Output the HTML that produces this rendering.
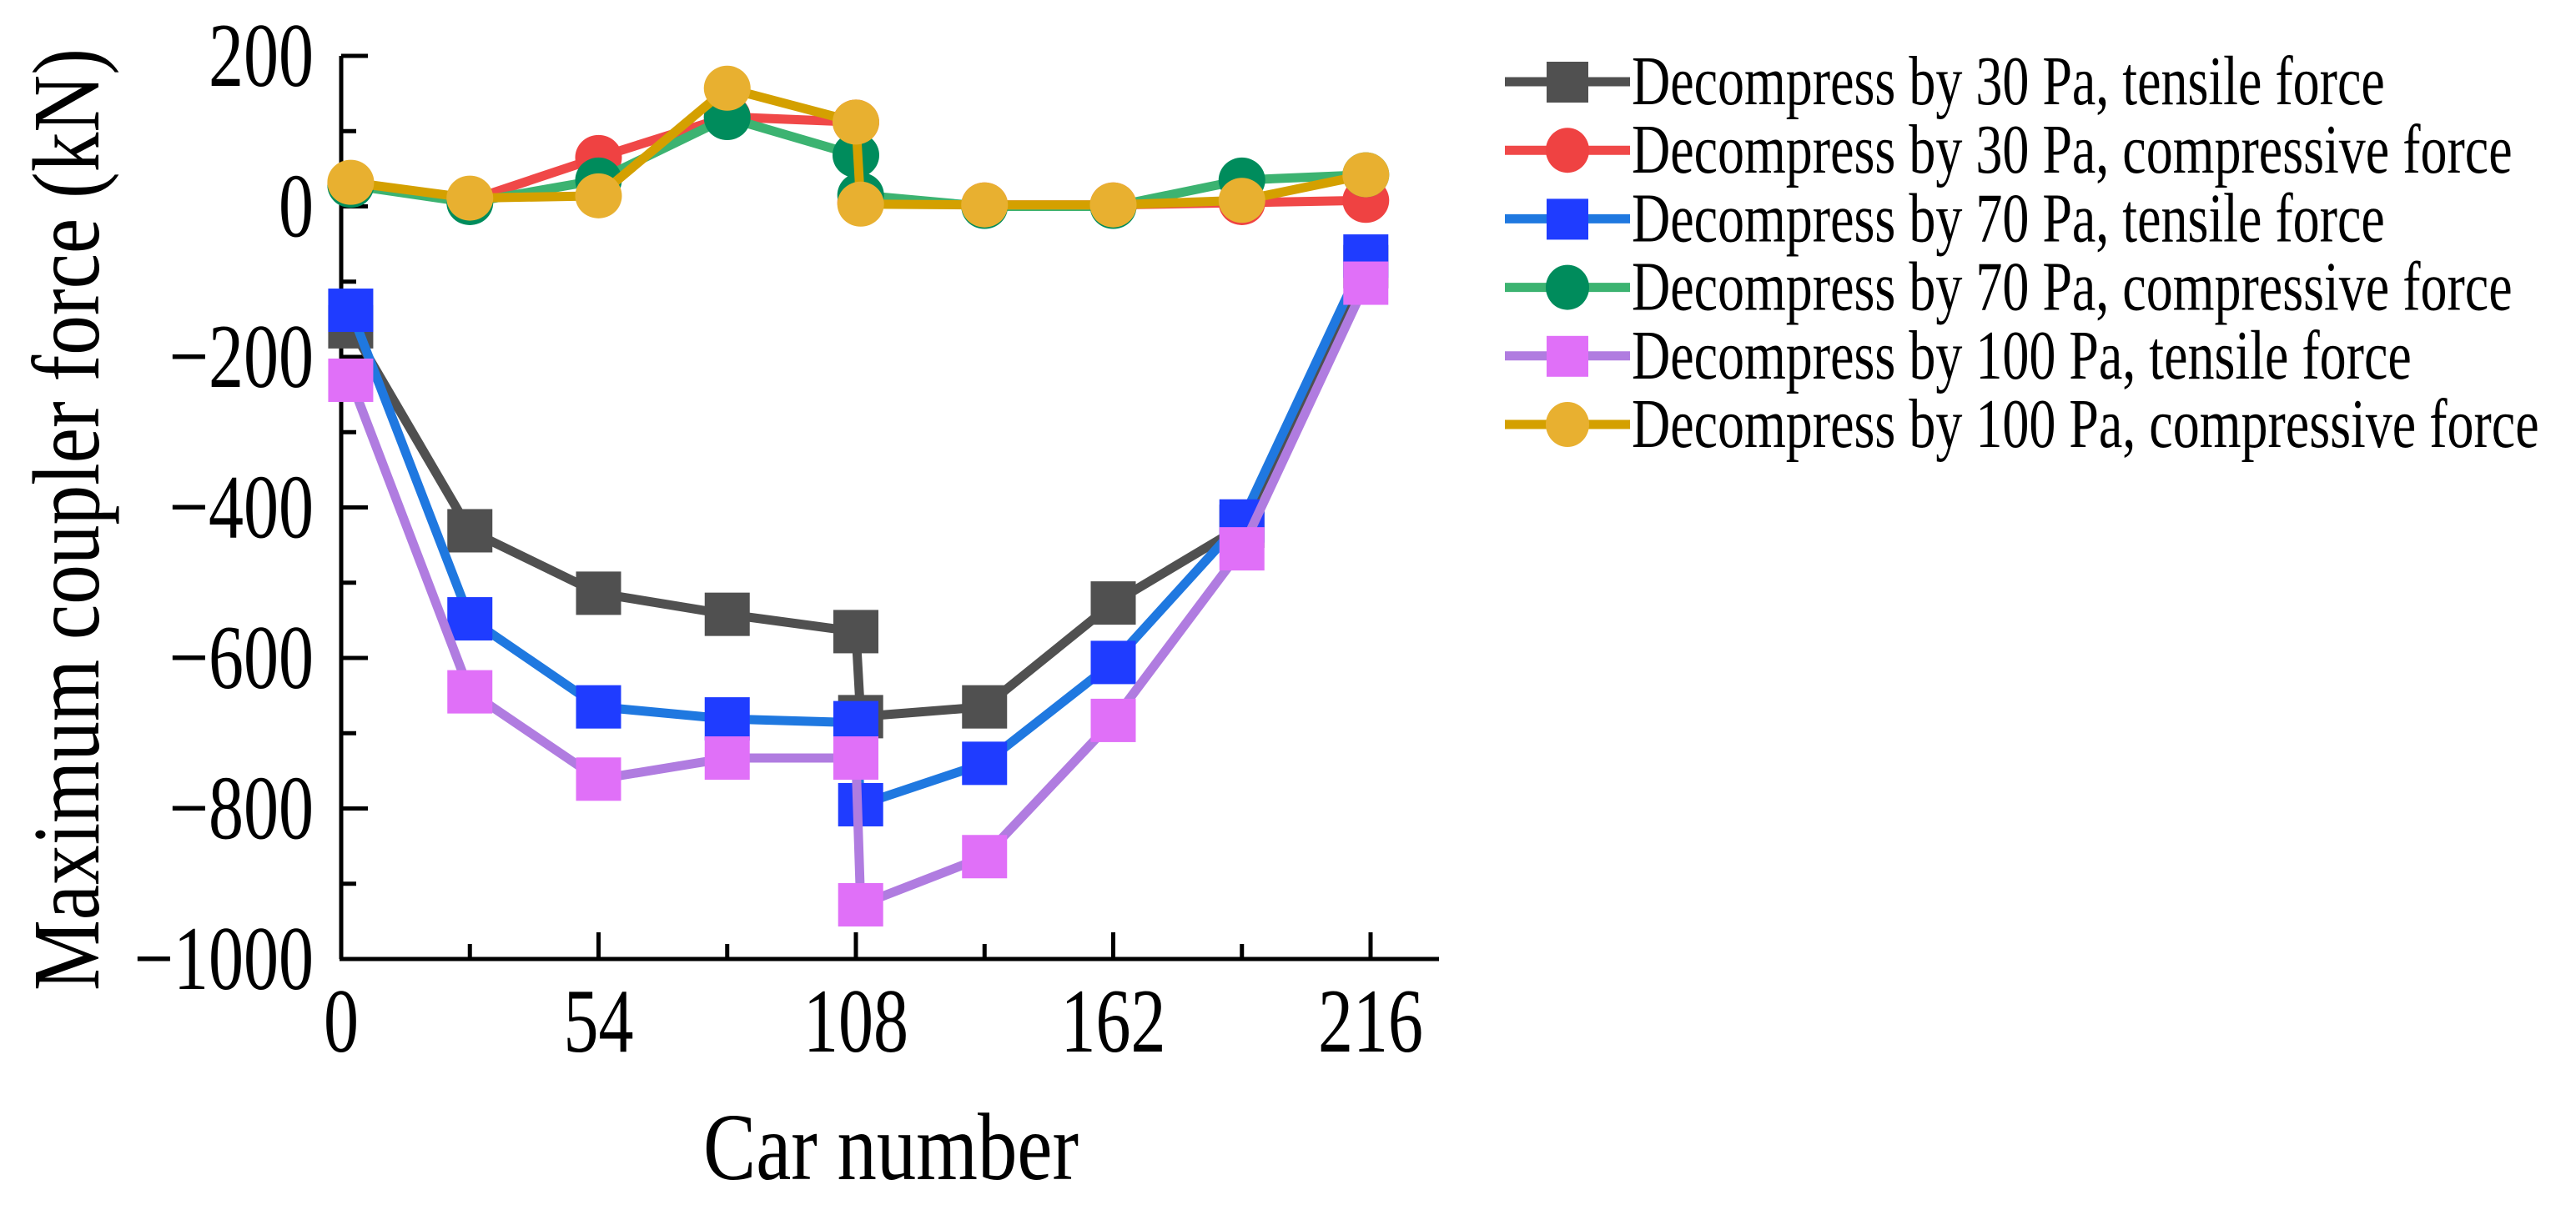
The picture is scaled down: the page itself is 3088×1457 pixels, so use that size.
<!DOCTYPE html>
<html><head><meta charset="utf-8"><style>
html,body{margin:0;padding:0;background:#fff;}
svg{display:block;font-family:"Liberation Serif",serif;}
</style></head><body>
<svg id="chart" width="3088" height="1457" viewBox="0 0 3088 1457" xmlns="http://www.w3.org/2000/svg">
<rect width="3088" height="1457" fill="#fff"/>
<g id="axes"></g>
<g id="series"></g>
<g id="legend"></g>
</svg>
<script>
const xCats = [2,27,54,81,108,109,135,162,189,215];
const xTicks = [0,54,108,162,216];
const yTicks = [200,0,-200,-400,-600,-800,-1000];
const labels = ["Decompress by 30 Pa, tensile force","Decompress by 30 Pa, compressive force","Decompress by 70 Pa, tensile force","Decompress by 70 Pa, compressive force","Decompress by 100 Pa, tensile force","Decompress by 100 Pa, compressive force"];
const t30 = [-160,-431,-514,-542,-565,-678,-665,-527,-425,-80];
const c30 = [30,8,65,119,112,5,2,2,5,8];
const t70 = [-138,-548,-665,-681,-686,-795,-740,-606,-418,-66];
const c70 = [28,5,35,118,68,15,0,0,35,42];
const t100 = [-231,-645,-761,-733,-733,-928,-864,-683,-455,-102];
const c100 = [32,11,14,157,112,3,2,2,8,42];

const NS="http://www.w3.org/2000/svg";
function mk(tag,attrs,parent){const e=document.createElementNS(NS,tag);for(const k in attrs)e.setAttribute(k,attrs[k]);parent.appendChild(e);return e;}
const X0=409,X1=1643,Y0=67,Y1=1150;
const VS=1.3;
function sx(v){return X0+(v-0)/216*(X1-X0);}
function sy(v){return Y0+(200-v)/1200*(Y1-Y0);}

const axes=document.getElementById('axes');
let yl=mk('line',{x1:X0,y1:Y0,x2:X0,y2:Y1,stroke:'#000','stroke-width':5},axes);


let xl=mk('line',{x1:X0-2,y1:Y1,x2:1725,y2:Y1,stroke:'#000','stroke-width':5},axes);


yTicks.forEach(v=>{
  const y=sy(v);
  const tk=mk('line',{x1:X0,y1:y,x2:X0+32,y2:y,stroke:'#000','stroke-width':5},axes);
  
  
  const t=mk('text',{x:0,y:0,'font-size':84,'text-anchor':'end',fill:'#000',transform:'translate(376,'+(y+36)+') scale(1,'+VS+')'},axes);
  t.textContent=v<0?'\u2212'+Math.abs(v):String(v);
  
  
});
for(let v=100;v>-1000;v-=200){
  const y=sy(v);
  const tk=mk('line',{x1:X0,y1:y,x2:X0+18,y2:y,stroke:'#000','stroke-width':5},axes);
  
  
}
xTicks.forEach(v=>{
  const x=sx(v);
  const tk=mk('line',{x1:x,y1:Y1,x2:x,y2:Y1-32,stroke:'#000','stroke-width':5},axes);
  
  
  const t=mk('text',{x:0,y:0,'font-size':84,'text-anchor':'middle',fill:'#000',transform:'translate('+x+',1261) scale(1,'+VS+')'},axes);
  t.textContent=String(v);
  
  
});
for(let v=27;v<216;v+=54){
  const x=sx(v);
  const tk=mk('line',{x1:x,y1:Y1,x2:x,y2:Y1-18,stroke:'#000','stroke-width':5},axes);
  
  
}
let xt=mk('text',{x:0,y:0,'font-size':88,'text-anchor':'middle',fill:'#000',textLength:450,lengthAdjust:'spacingAndGlyphs',transform:'translate(1068,1414) scale(1,'+VS+')'},axes);
xt.textContent='Car number';


let yt=mk('text',{x:0,y:0,'font-size':88,'text-anchor':'middle',fill:'#000',transform:'translate(118,623) rotate(-90) scale(1,'+VS+')',textLength:1130,lengthAdjust:'spacingAndGlyphs'},axes);
yt.textContent='Maximum coupler force (kN)';



const series=[
 {d:t30,line:'#505050',fill:'#505050',m:'sq',n:'series-30pa-tensile'},
 {d:t70,line:'#1f78e0',fill:'#1f3cff',m:'sq',n:'series-70pa-tensile'},
 {d:t100,line:'#b07ce0',fill:'#e070f8',m:'sq',n:'series-100pa-tensile'},
 {d:c30,line:'#f04848',fill:'#ef4242',m:'ci',n:'series-30pa-compressive'},
 {d:c70,line:'#3cb371',fill:'#008c5c',m:'ci',n:'series-70pa-compressive'},
 {d:c100,line:'#d4a000',fill:'#e8b030',m:'ci',n:'series-100pa-compressive'}
];
const sg=document.getElementById('series');
series.forEach(s=>{
  const g=mk('g',{},sg);
  
  
  const pts=s.d.map((v,i)=>sx(xCats[i])+','+sy(v)).join(' ');
  const pl=mk('polyline',{points:pts,fill:'none',stroke:s.line,'stroke-width':11,'stroke-linejoin':'round'},g);
  
  
  s.d.forEach((v,i)=>{
    const x=sx(xCats[i]),y=sy(v);
    let e;
    if(s.m==='sq') e=mk('rect',{x:x-27,y:y-26,width:54,height:52,fill:s.fill},g);
    else e=mk('ellipse',{cx:x,cy:y,rx:28,ry:27,fill:s.fill},g);
    
    
  });
});

const lg=document.getElementById('legend');
const legCols=[['#505050','#505050','sq'],['#f04848','#ef4242','ci'],['#1f78e0','#1f3cff','sq'],['#3cb371','#008c5c','ci'],['#b07ce0','#e070f8','sq'],['#d4a000','#e8b030','ci']];
labels.forEach((lab,i)=>{
  const y=98+i*82.2;
  const g=mk('g',{},lg);
  
  
  mk('line',{x1:1804,y1:y,x2:1954,y2:y,stroke:legCols[i][0],'stroke-width':11},g);
  if(legCols[i][2]==='sq') mk('rect',{x:1854,y:y-24,width:50,height:49,fill:legCols[i][1]},g);
  else mk('ellipse',{cx:1879,cy:y,rx:26,ry:27,fill:legCols[i][1]},g);
  const t=mk('text',{x:0,y:0,'font-size':64,fill:'#000',transform:'translate(1956,'+(y+27)+') scale(1,'+VS+')'},g);
  t.textContent=lab;
});
</script>
</body></html>
